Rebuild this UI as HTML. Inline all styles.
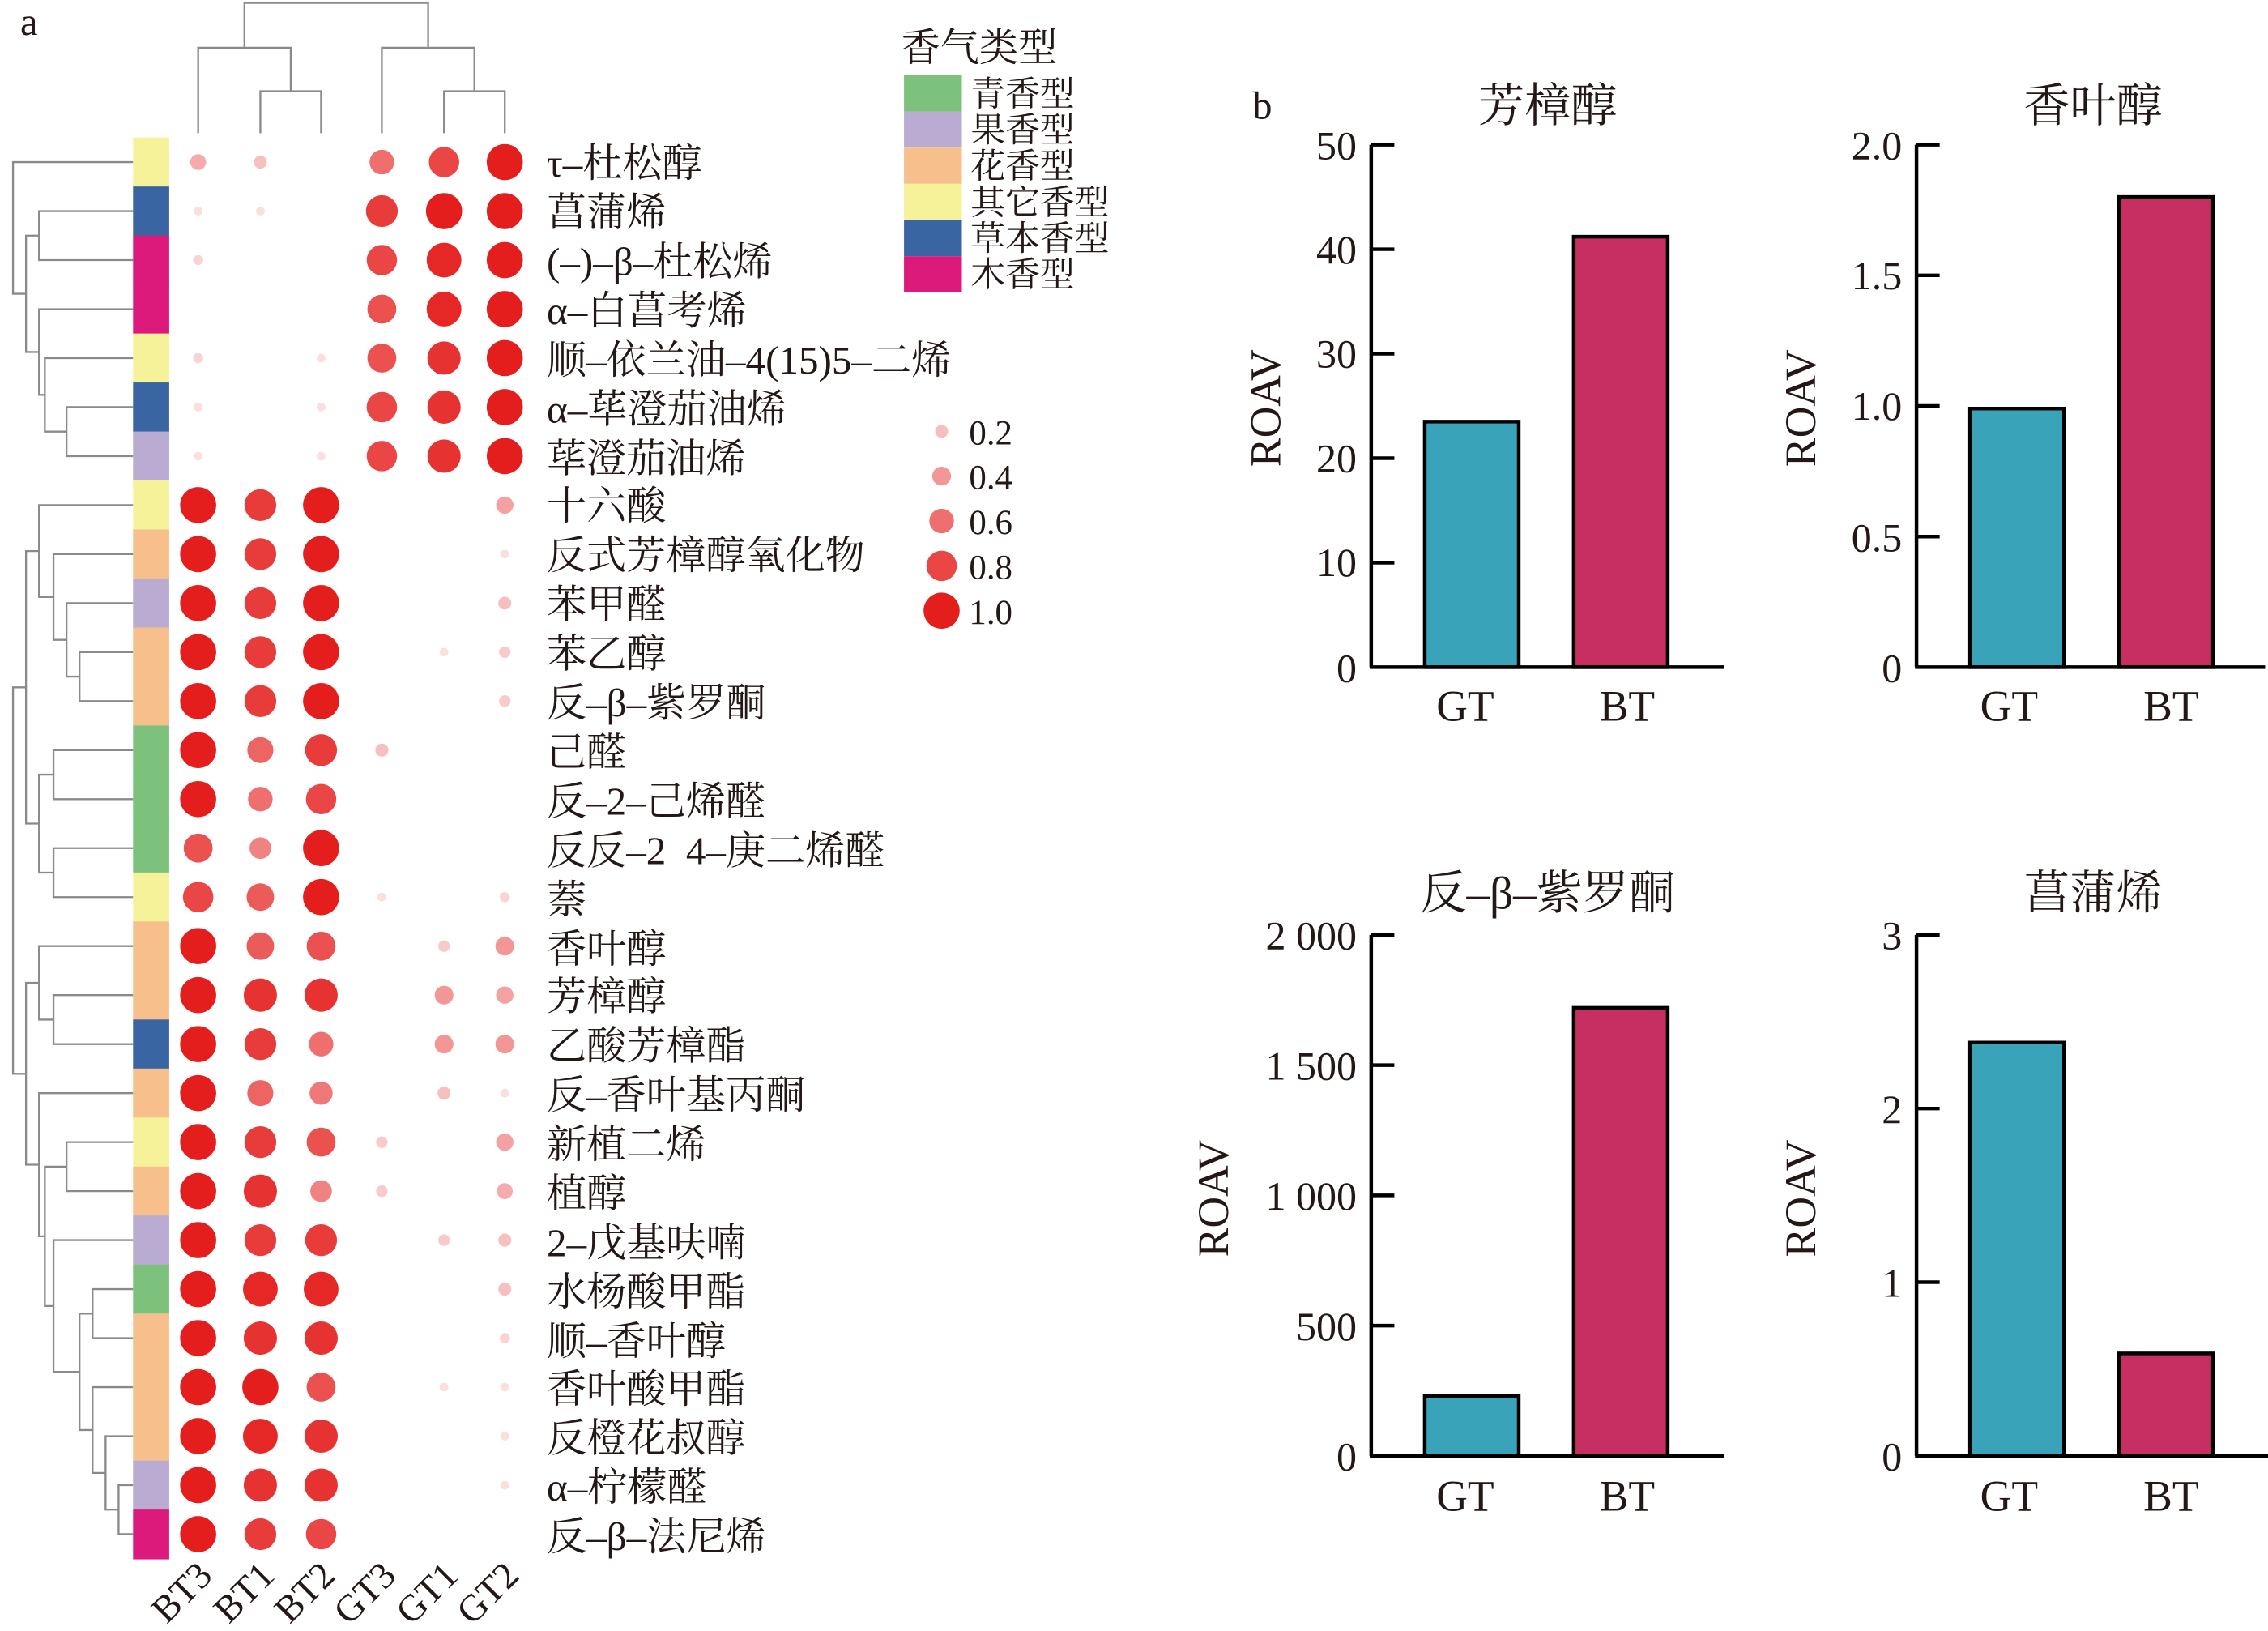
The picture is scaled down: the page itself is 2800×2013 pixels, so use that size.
<!DOCTYPE html>
<html><head><meta charset="utf-8"><style>
html,body{margin:0;padding:0;background:#fff;}
svg{display:block;}
text{font-family:"Liberation Serif","Noto Serif CJK SC",serif;fill:#231815;}
</style></head><body>
<svg id="s" width="2800" height="2013" viewBox="0 0 1568 1127" preserveAspectRatio="none" xmlns="http://www.w3.org/2000/svg">
<rect width="1568" height="1127" fill="#fff"/>
<text x="14" y="24" font-size="27">a</text>
<text x="866" y="82" font-size="27">b</text>
<g id="dend" fill="none" stroke="#8a8a8a" stroke-width="1.3"></g>
<g id="bars"></g>
<g id="dots"></g>
<g font-size="27.5">
<text x="378" y="122">τ–杜松醇</text>
<text x="378" y="156">菖蒲烯</text>
<text x="378" y="190">(–)–β–杜松烯</text>
<text x="378" y="224">α–白菖考烯</text>
<text x="378" y="258">顺–依兰油–4(15)5–二烯</text>
<text x="378" y="292">α–荜澄茄油烯</text>
<text x="378" y="326">荜澄茄油烯</text>
<text x="378" y="359">十六酸</text>
<text x="378" y="393">反式芳樟醇氧化物</text>
<text x="378" y="427">苯甲醛</text>
<text x="378" y="461">苯乙醇</text>
<text x="378" y="495">反–β–紫罗酮</text>
<text x="378" y="529">己醛</text>
<text x="378" y="563">反–2–己烯醛</text>
<text x="378" y="597" xml:space="preserve">反反–2  4–庚二烯醛</text>
<text x="378" y="631">萘</text>
<text x="378" y="665">香叶醇</text>
<text x="378" y="698">芳樟醇</text>
<text x="378" y="732">乙酸芳樟酯</text>
<text x="378" y="766">反–香叶基丙酮</text>
<text x="378" y="800">新植二烯</text>
<text x="378" y="834">植醇</text>
<text x="378" y="868">2–戊基呋喃</text>
<text x="378" y="902">水杨酸甲酯</text>
<text x="378" y="936">顺–香叶醇</text>
<text x="378" y="969">香叶酸甲酯</text>
<text x="378" y="1003">反橙花叔醇</text>
<text x="378" y="1037">α–柠檬醛</text>
<text x="378" y="1071">反–β–法尼烯</text>
</g>
<g font-size="26" text-anchor="end">
<text transform="translate(148,1090) rotate(-45)">BT3</text>
<text transform="translate(191,1090) rotate(-45)">BT1</text>
<text transform="translate(233,1090) rotate(-45)">BT2</text>
<text transform="translate(275,1090) rotate(-45)">GT3</text>
<text transform="translate(318,1090) rotate(-45)">GT1</text>
<text transform="translate(360,1090) rotate(-45)">GT2</text>
</g>
<text x="623" y="42" font-size="27">香气类型</text>
<rect x="625" y="52" width="40" height="25" fill="#7dc27c"/>
<rect x="625" y="77" width="40" height="25" fill="#baabd2"/>
<rect x="625" y="102" width="40" height="25" fill="#f6bf8b"/>
<rect x="625" y="127" width="40" height="25" fill="#f5f29a"/>
<rect x="625" y="152" width="40" height="25" fill="#3a65a3"/>
<rect x="625" y="177" width="40" height="25" fill="#dc1a7b"/>
<g font-size="24">
<text x="671" y="73">青香型</text>
<text x="671" y="98">果香型</text>
<text x="671" y="123">花香型</text>
<text x="671" y="148">其它香型</text>
<text x="671" y="173">草本香型</text>
<text x="671" y="198">木香型</text>
</g>
<g id="sleg"></g>
<g font-size="24">
<text x="670" y="307">0.2</text>
<text x="670" y="338">0.4</text>
<text x="670" y="369">0.6</text>
<text x="670" y="400">0.8</text>
<text x="670" y="431">1.0</text>
</g>
<g id="charts"></g>
<g font-size="32" text-anchor="middle">
<text x="1070" y="84">芳樟醇</text>
<text x="1447" y="84">香叶醇</text>
<text x="1070" y="628">反–β–紫罗酮</text>
<text x="1447" y="628">菖蒲烯</text>
</g>
<g font-size="30" text-anchor="middle">
<text transform="translate(885,282) rotate(-90)">ROAV</text>
<text transform="translate(1255,282) rotate(-90)">ROAV</text>
<text transform="translate(849,828) rotate(-90)">ROAV</text>
<text transform="translate(1255,828) rotate(-90)">ROAV</text>
<text x="1013" y="498">GT</text><text x="1125" y="498">BT</text>
<text x="1389" y="498">GT</text><text x="1501" y="498">BT</text>
<text x="1013" y="1044">GT</text><text x="1125" y="1044">BT</text>
<text x="1389" y="1044">GT</text><text x="1501" y="1044">BT</text>
</g>
<g font-size="28" text-anchor="end">
<text x="938" y="110">50</text><text x="938" y="182">40</text><text x="938" y="254">30</text><text x="938" y="326">20</text><text x="938" y="398">10</text><text x="938" y="471">0</text>
<text x="1315" y="110">2.0</text><text x="1315" y="200">1.5</text><text x="1315" y="290">1.0</text><text x="1315" y="381">0.5</text><text x="1315" y="471">0</text>
<text x="938" y="656">2 000</text><text x="938" y="746">1 500</text><text x="938" y="836">1 000</text><text x="938" y="926">500</text><text x="938" y="1016">0</text>
<text x="1315" y="656">3</text><text x="1315" y="776">2</text><text x="1315" y="896">1</text><text x="1315" y="1016">0</text>
</g>
</svg>
<script>
var NS="http://www.w3.org/2000/svg";
function el(p,t,a){var e=document.createElementNS(NS,t);for(var k in a)e.setAttribute(k,a[k]);p.appendChild(e);return e;}
var Y=function(i){return 112+33.86*i;};
var rc=["#f5f29a","#3a65a3","#dc1a7b","#dc1a7b","#f5f29a","#3a65a3","#baabd2","#f5f29a","#f6bf8b","#baabd2","#f6bf8b","#f6bf8b","#7dc27c","#7dc27c","#7dc27c","#f5f29a","#f6bf8b","#f6bf8b","#3a65a3","#f6bf8b","#f5f29a","#f6bf8b","#baabd2","#7dc27c","#f6bf8b","#f6bf8b","#f6bf8b","#baabd2","#dc1a7b"];
var bars=document.getElementById("bars");
rc.forEach(function(c,i){el(bars,"rect",{x:92,y:95+33.86*i,width:25,height:34.4,fill:c});});
var V=[[.3,.2,0,.6,.8,1],[.05,.05,0,.85,1,1],[.1,0,0,.8,.95,1],[0,0,0,.75,.95,1],[.1,0,.05,.75,.9,1],[.05,0,.05,.8,.9,1],[.05,0,.05,.8,.9,1],
[1,.85,1,0,0,.35],[1,.85,1,0,0,.05],[1,.85,1,0,0,.2],[1,.85,1,0,.05,.15],[1,.85,1,0,0,.15],[1,.65,.85,.2,0,0],[1,.6,.8,0,0,0],[.75,.5,1,0,0,0],[.8,.7,1,.05,0,.1],
[1,.7,.75,0,.15,.4],[1,.9,.9,0,.4,.35],[1,.85,.6,0,.4,.4],[1,.65,.55,0,.2,.05],[1,.85,.75,.15,0,.35],[1,.9,.5,.15,0,.3],[1,.85,.85,0,.15,.2],[1,.95,.95,0,0,.2],[1,.9,.9,0,0,.1],[1,1,.75,0,.05,.05],[1,.95,.9,0,0,.05],[1,.9,.9,0,0,.05],[1,.85,.8,0,0,0]];
var cx=[137,180,222,264,307,349];
function col(v){var a=[252,232,232],b=[228,30,28];return "rgb("+a.map(function(x,i){return Math.round(x+(b[i]-x)*v);}).join(",")+")";}
var dots=document.getElementById("dots");
V.forEach(function(r,i){r.forEach(function(v,j){if(v<0.03)return;el(dots,"circle",{cx:cx[j],cy:Y(i),r:2.5+10*v,fill:col(v)});});});
var sl=document.getElementById("sleg");
[.2,.4,.6,.8,1].forEach(function(v,i){el(sl,"circle",{cx:651,cy:298+31*i,r:2.5+10*v,fill:col(v)});});
var d=document.getElementById("dend");
function L(i){return {y:Y(i),x:92};}
function J(x,a,b){el(d,"polyline",{points:a.x+","+a.y+" "+x+","+a.y+" "+x+","+b.y+" "+b.x+","+b.y});return {x:x,y:(a.y+b.y)/2};}
var top=J(9,L(0),J(18,J(27,L(1),L(2)),J(27,L(3),J(31,L(4),J(46,L(5),L(6))))));
var B1=J(18,J(27,L(7),J(37,L(8),J(46,L(9),J(55,L(10),L(11))))),J(27,J(37,L(12),L(13)),J(37,L(14),L(15))));
var B2=J(18,J(27,L(16),J(37,L(17),L(18))),J(27,L(19),J(31,J(46,L(20),L(21)),J(37,L(22),J(55,J(64,L(23),L(24)),J(64,L(25),J(73,L(26),J(82,L(27),L(28)))))))));
var bot=J(9,B1,B2);
J(2,top,bot);
function T(x,y){return {x:x,y:y};}
function JT(y,a,b){el(d,"polyline",{points:a.x+","+a.y+" "+a.x+","+y+" "+b.x+","+y+" "+b.x+","+b.y});return {x:(a.x+b.x)/2,y:y};}
var bt=JT(33,T(137,92),JT(63,T(180,92),T(222,92)));
var gt=JT(33,T(264,92),JT(63,T(307,92),T(349,92)));
JT(2,bt,gt);
var ch=document.getElementById("charts");
function chart(ax,y0,y1,xend,vals,max,ticks){
 var h=y0-y1;
 [[985,vals[0],"#38a3b9"],[1088,vals[1],"#c72f62"]].forEach(function(b){
  var t=y0-h*b[1]/max;el(ch,"rect",{x:ax+(b[0]-948),y:t,width:65,height:y0-t,fill:b[2],stroke:"#000","stroke-width":2.5});});
 el(ch,"line",{x1:ax,y1:y1,x2:ax,y2:y0,stroke:"#000","stroke-width":2.5});
 el(ch,"line",{x1:ax-1,y1:y0,x2:xend,y2:y0,stroke:"#000","stroke-width":2.5});
 ticks.forEach(function(t){var y=y0-h*t/max;el(ch,"line",{x1:ax,y1:y,x2:ax+16,y2:y,stroke:"#000","stroke-width":2.5});});
}
chart(948,461,100,1192,[23.5,41.2],50,[10,20,30,40,50]);
chart(1325,461,100,1566,[0.99,1.8],2,[0.5,1,1.5,2]);
chart(948,1006,646,1192,[230,1720],2000,[500,1000,1500,2000]);
chart(1325,1006,646,1568,[2.38,0.59],3,[1,2,3]);
</script>
</body></html>
